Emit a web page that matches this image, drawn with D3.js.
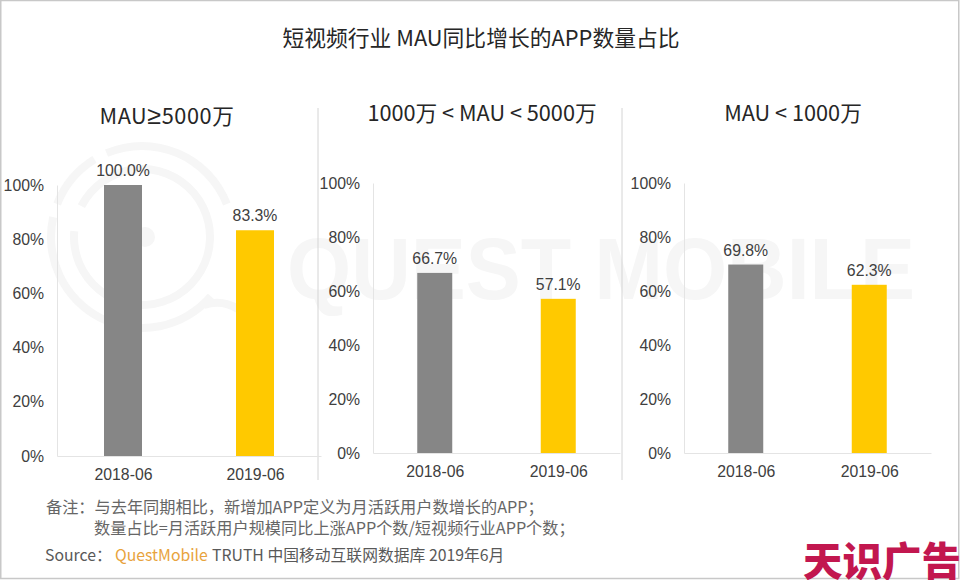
<!DOCTYPE html>
<html lang="zh-CN">
<head>
    <meta charset="UTF-8">
    <title>短视频行业 MAU同比增长的APP数量占比</title>
    <script src="https://d3js.org/d3.v7.min.js"></script>
    <style>
        html, body { margin: 0; padding: 0; background: #fff; overflow: hidden; }
        svg { display: block; }
        text { font-family: "Liberation Sans", Arial, sans-serif; }
        .cjk { font-family: "Noto Sans CJK SC", "Noto Sans", sans-serif; }
        .tick-label { font-size: 15.8px; fill: #404040; }
        .note { font-size: 16.2px; fill: #666; }
        .source { font-size: 15.8px; fill: #595959; }
    </style>
</head>
<body>
    <svg id="chart" width="960" height="580"></svg>

    <script>
        // data
        const categories = ["2018-06", "2019-06"];
        const panelTitles = ["MAU≥5000万", "1000万 < MAU < 5000万", "MAU < 1000万"];
        const highMau = [100.0, 83.3];
        const midMau = [66.7, 57.1];
        const lowMau = [69.8, 62.3];
        const yTicks = [0, 20, 40, 60, 80, 100];
        const barColors = ["#868686", "#ffc900"];

        const svg = d3.select("#chart");

        // frame of the slide
        svg.append("rect").attr("x", 0.75).attr("y", 0.5).attr("width", 958).attr("height", 578)
            .attr("fill", "#fff").attr("stroke", "#c8c8c8").attr("stroke-width", 1.5);

        // watermark: ring logo and wordmark
        const wmColor = "#f6f6f6";
        const wm = svg.append("g").attr("fill", wmColor);
        const arc = d3.arc();
        const logo = wm.append("g").attr("transform", "translate(142,237)");
        [[87, 95, -0.4, 1.2], [87, 95, -1.2, -0.55], [87, 95, -4.0, -1.35], [64, 72, -1.1, 4.8]].forEach(r => {
            logo.append("path")
                .attr("d", arc({innerRadius: r[0], outerRadius: r[1], startAngle: r[2], endAngle: r[3]}));
        });
        logo.append("circle").attr("r", 10).attr("cx", 3);
        logo.append("path").attr("d", "M62,68 Q80,62 96,72").attr("fill", "none")
            .attr("stroke", wmColor).attr("stroke-width", 8);
        wm.append("text").attr("x", 287).attr("y", 299)
            .attr("textLength", 628).attr("lengthAdjust", "spacingAndGlyphs")
            .style("font-size", "88px").style("font-weight", "bold")
            .text("QUEST MOBILE");

        // main title
        svg.append("text").attr("class", "cjk")
            .attr("x", 481).attr("y", 46).attr("text-anchor", "middle")
            .style("font-size", "21.8px").attr("fill", "#262626")
            .text("短视频行业 MAU同比增长的APP数量占比");

        // panel separators
        svg.selectAll(".sep").data([318, 622]).enter().append("line")
            .attr("x1", d => d).attr("x2", d => d).attr("y1", 108).attr("y2", 480)
            .attr("stroke", "#d4d4d4");

        const panels = [
            {title: panelTitles[0], values: highMau, left: 57, right: 321, top: 185, bottom: 456, barW: 38, titleX: 167, titleY: 124, titleSpacing: 0.6},
            {title: panelTitles[1], values: midMau, left: 373, right: 620, top: 183, bottom: 453, barW: 35, titleX: 482, titleY: 121, titleSpacing: 0},
            {title: panelTitles[2], values: lowMau, left: 684, right: 931, top: 183, bottom: 453, barW: 35, titleX: 793, titleY: 121, titleSpacing: 0}
        ];

        function drawPanel(p) {
            const x = d3.scalePoint().domain(categories).range([p.left, p.right]).padding(0.5);
            const y = d3.scaleLinear().domain([0, 100]).range([p.bottom, p.top]);

            const g = svg.append("g");

            // the CJK font's ≥ is too wide, so that glyph comes from the latin font
            const title = g.append("text").attr("class", "cjk")
                .attr("x", p.titleX).attr("y", p.titleY).attr("text-anchor", "middle")
                .style("font-size", "21.7px").style("letter-spacing", p.titleSpacing + "px").attr("fill", "#262626");
            p.title.split(/(≥)/).forEach(part => {
                const span = title.append("tspan").text(part);
                if (part === "≥") span.style("font-family", "'Liberation Sans'").style("font-size", "25px");
            });

            // axes
            const yAxis = g.append("g")
                .attr("transform", `translate(${p.left},0)`)
                .call(d3.axisLeft(y).tickValues(yTicks).tickSize(0).tickPadding(13).tickFormat(d => d + "%"));
            yAxis.select(".domain").attr("stroke", "#e4e4e4");
            yAxis.selectAll("text").attr("class", "tick-label");

            const xAxis = g.append("g")
                .attr("transform", `translate(0,${p.bottom})`)
                .call(d3.axisBottom(x).tickSize(0).tickPadding(13));
            xAxis.select(".domain").attr("stroke", "#e4e4e4");
            xAxis.selectAll("text").attr("class", "tick-label");

            // bars
            g.selectAll("rect").data(p.values).enter().append("rect")
                .attr("x", (d, i) => x(categories[i]) - p.barW / 2)
                .attr("y", d => y(d))
                .attr("width", p.barW)
                .attr("height", d => p.bottom - y(d))
                .attr("fill", (d, i) => barColors[i]);

            // value labels
            g.selectAll(".value").data(p.values).enter().append("text")
                .attr("class", "tick-label")
                .attr("x", (d, i) => x(categories[i]))
                .attr("y", d => y(d) - 9)
                .attr("text-anchor", "middle")
                .text(d => d.toFixed(1) + "%");
        }

        panels.forEach(drawPanel);

        // notes
        svg.append("text").attr("class", "note cjk").attr("x", 46).attr("y", 513)
            .text("备注：与去年同期相比，新增加APP定义为月活跃用户数增长的APP；");
        svg.append("text").attr("class", "note cjk").attr("x", 94).attr("y", 534)
            .text("数量占比=月活跃用户规模同比上涨APP个数/短视频行业APP个数；");

        const source = svg.append("text").attr("class", "source cjk").attr("x", 45).attr("y", 561);
        source.append("tspan").text("Source：");
        source.append("tspan").attr("x", 115).attr("fill", "#e8a33d").text("QuestMobile");
        source.append("tspan").attr("x", 212).text("TRUTH 中国移动互联网数据库 2019年6月");

        // publisher mark
        svg.append("text").attr("class", "cjk")
            .attr("x", 803).attr("y", 576)
            .style("font-size", "39.5px").style("font-weight", 900).attr("fill", "#c2174f")
            .text("天识广告");
    </script>
</body>
</html>
